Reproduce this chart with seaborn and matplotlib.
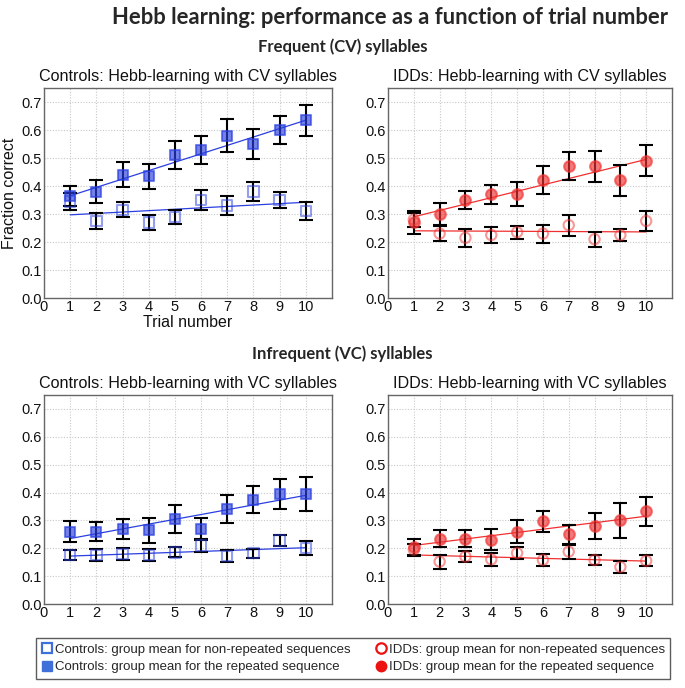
import numpy as np
import pandas as pd
import matplotlib
matplotlib.use("Agg")
import matplotlib.pyplot as plt
import seaborn as sns
from matplotlib.lines import Line2D

# ---- data ----
trials = [1, 2, 3, 4, 5, 6, 7, 8, 9, 10]

# Controls, CV syllables
ctrl_cv_rep = [0.365, 0.38, 0.44, 0.435, 0.51, 0.53, 0.58, 0.55, 0.60, 0.635]
ctrl_cv_rep_err = [0.035, 0.04, 0.045, 0.045, 0.05, 0.05, 0.06, 0.052, 0.05, 0.055]
ctrl_cv_non = [0.345, 0.275, 0.315, 0.27, 0.29, 0.35, 0.33, 0.38, 0.35, 0.31]
ctrl_cv_non_err = [0.03, 0.027, 0.027, 0.027, 0.025, 0.035, 0.035, 0.033, 0.03, 0.033]

# IDDs, CV syllables
idd_cv_rep = [0.27, 0.30, 0.35, 0.37, 0.37, 0.42, 0.47, 0.47, 0.42, 0.49]
idd_cv_rep_err = [0.04, 0.04, 0.033, 0.033, 0.043, 0.05, 0.05, 0.055, 0.055, 0.055]
idd_cv_non = [0.28, 0.23, 0.215, 0.225, 0.235, 0.23, 0.26, 0.21, 0.225, 0.275]
idd_cv_non_err = [0.025, 0.027, 0.033, 0.03, 0.023, 0.032, 0.037, 0.027, 0.023, 0.035]

# Controls, VC syllables
ctrl_vc_rep = [0.26, 0.26, 0.27, 0.265, 0.305, 0.27, 0.34, 0.375, 0.395, 0.395]
ctrl_vc_rep_err = [0.037, 0.033, 0.035, 0.045, 0.05, 0.04, 0.05, 0.05, 0.055, 0.06]
ctrl_vc_non = [0.175, 0.175, 0.18, 0.175, 0.185, 0.21, 0.172, 0.182, 0.228, 0.20]
ctrl_vc_non_err = [0.018, 0.022, 0.022, 0.022, 0.018, 0.022, 0.02, 0.017, 0.02, 0.025]

# IDDs, VC syllables
idd_vc_rep = [0.205, 0.235, 0.235, 0.23, 0.26, 0.297, 0.25, 0.28, 0.30, 0.333]
idd_vc_rep_err = [0.03, 0.032, 0.032, 0.038, 0.04, 0.037, 0.035, 0.045, 0.062, 0.052]
idd_vc_non = [0.195, 0.152, 0.17, 0.16, 0.183, 0.158, 0.188, 0.158, 0.133, 0.155]
idd_vc_non_err = [0.022, 0.025, 0.02, 0.022, 0.02, 0.022, 0.025, 0.018, 0.022, 0.02]

# fitted trend lines, value at trial 1 and trial 10
fit_x = [1, 10]
ctrl_cv_rep_fit = [0.365, 0.635]
ctrl_cv_non_fit = [0.297, 0.342]
idd_cv_rep_fit = [0.29, 0.495]
idd_cv_non_fit = [0.24, 0.236]
ctrl_vc_rep_fit = [0.235, 0.39]
ctrl_vc_non_fit = [0.172, 0.202]
idd_vc_rep_fit = [0.21, 0.315]
idd_vc_non_fit = [0.176, 0.154]

BLUE = "#2a3fe0"
RED = "#f03030"

sns.set_theme(style="white")
plt.rcParams['font.family'] = ['Liberation Sans', 'DejaVu Sans']

fig = plt.figure(figsize=(6.85, 6.88), dpi=100)
W, H = 685, 688


def add_ax(left, top, right, bottom):
    return fig.add_axes([left / W, 1 - bottom / H, (right - left) / W, (bottom - top) / H])


ax_cc = add_ax(44, 88, 332, 298)
ax_ic = add_ax(388, 88, 672, 298)
ax_cv = add_ax(44, 395, 332, 604)
ax_iv = add_ax(388, 395, 672, 604)


def panel(ax, title, rep, rep_err, non, non_err, rep_fit, non_fit, color, marker):
    # trend lines
    sns.lineplot(x=fit_x, y=rep_fit, ax=ax, color=color, lw=0.9, zorder=2)
    sns.lineplot(x=fit_x, y=non_fit, ax=ax, color=color, lw=0.9, zorder=2)
    # error bars
    for vals, errs in [(rep, rep_err), (non, non_err)]:
        ax.errorbar(trials, vals, yerr=errs, fmt="none", ecolor="black",
                    elinewidth=1.5, capsize=5, capthick=1.5, zorder=3)
    # markers
    df_rep = pd.DataFrame({"trial": trials, "val": rep})
    df_non = pd.DataFrame({"trial": trials, "val": non})
    sns.scatterplot(data=df_rep, x="trial", y="val", ax=ax, marker=marker, s=60,
                    color=color, edgecolor=color, linewidth=1.5, alpha=0.65, zorder=4)
    sns.scatterplot(data=df_non, x="trial", y="val", ax=ax, marker=marker, s=55,
                    facecolor="none", edgecolor=color, linewidth=1.5, alpha=0.5, zorder=4)
    ax.set_xlim(0, 11)
    ax.set_ylim(0, 0.75)
    ax.set_xticks(range(0, 11))
    ax.set_yticks(np.arange(0, 0.71, 0.1))
    ax.set_yticklabels([f"{v:.1f}" for v in np.arange(0, 0.71, 0.1)])
    ax.grid(True, which="major", color="#c8c8c8", linestyle=(0, (1, 1.5)), lw=0.8)
    ax.tick_params(axis="both", labelsize=10.5, length=0, pad=1.5, colors="#111111")
    for sp in ax.spines.values():
        sp.set_color("#666666")
        sp.set_linewidth(1.0)
    ax.set_title(title, fontsize=11.6, pad=5, color="#111111")
    ax.set_xlabel("")
    ax.set_ylabel("")


panel(ax_cc, "Controls: Hebb-learning with CV syllables", ctrl_cv_rep, ctrl_cv_rep_err,
      ctrl_cv_non, ctrl_cv_non_err, ctrl_cv_rep_fit, ctrl_cv_non_fit, BLUE, "s")
panel(ax_ic, "IDDs: Hebb-learning with CV syllables", idd_cv_rep, idd_cv_rep_err,
      idd_cv_non, idd_cv_non_err, idd_cv_rep_fit, idd_cv_non_fit, RED, "o")
panel(ax_cv, "Controls: Hebb-learning with VC syllables", ctrl_vc_rep, ctrl_vc_rep_err,
      ctrl_vc_non, ctrl_vc_non_err, ctrl_vc_rep_fit, ctrl_vc_non_fit, BLUE, "s")
panel(ax_iv, "IDDs: Hebb-learning with VC syllables", idd_vc_rep, idd_vc_rep_err,
      idd_vc_non, idd_vc_non_err, idd_vc_rep_fit, idd_vc_non_fit, RED, "o")

ax_cc.set_xlabel("Trial number", fontsize=11.5, labelpad=1, color="#111111")
ax_cc.set_ylabel("Fraction correct", fontsize=11.5, labelpad=3, color="#111111")

# headings
fig.text(390 / W, 1 - 18 / H, "Hebb learning: performance as a function of trial number",
         ha="center", va="center", fontsize=15.8, fontweight="bold", family=["Lato", "DejaVu Sans"])
fig.text(343 / W, 1 - 47 / H, "Frequent (CV) syllables", ha="center", va="center",
         fontsize=12, fontweight="bold", family=["Lato", "DejaVu Sans"])
fig.text(342 / W, 1 - 354 / H, "Infrequent (VC) syllables", ha="center", va="center",
         fontsize=12, fontweight="bold", family=["Lato", "DejaVu Sans"])

# legend
handles = [
    Line2D([], [], marker="s", ls="none", mfc="white", mec="#3f6fd8", mew=1.6, ms=7.5),
    Line2D([], [], marker="s", ls="none", mfc="#3f6fd8", mec="#3f6fd8", ms=7.5),
    Line2D([], [], marker="o", ls="none", mfc="white", mec="#ee1111", mew=1.6, ms=7.5),
    Line2D([], [], marker="o", ls="none", mfc="#ee1111", mec="#ee1111", ms=7.5),
]
labels = [
    "Controls: group mean for non-repeated sequences",
    "Controls: group mean for the repeated sequence",
    "IDDs: group mean for non-repeated sequences",
    "IDDs: group mean for the repeated sequence",
]
leg = fig.legend(handles, labels, ncol=2, loc="center",
                 bbox_to_anchor=(36 / W, 1 - 681 / H, 634 / W, 45 / H), mode="expand",
                 fontsize=9.5, frameon=True, fancybox=False, edgecolor="#333333",
                 handletextpad=0.15, handlelength=0.9, columnspacing=1.0,
                 labelspacing=0.4, borderpad=0.4, borderaxespad=0)
leg.get_frame().set_linewidth(1.0)

fig.savefig("out.png", dpi=100)
